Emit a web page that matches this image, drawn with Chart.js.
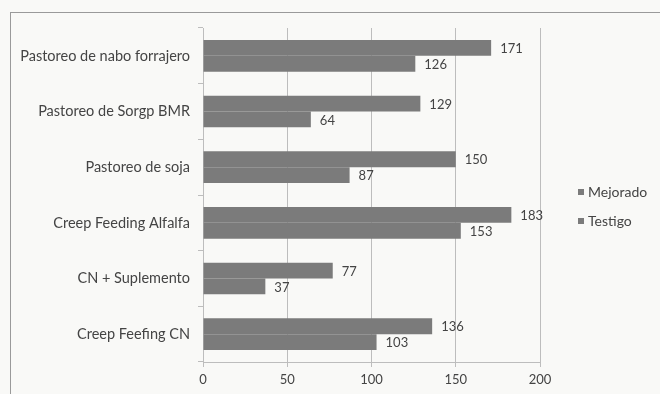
<!DOCTYPE html>
<html>
<head>
<meta charset="utf-8">
<script src="https://cdn.jsdelivr.net/npm/chart.js@4.4.0/dist/chart.umd.min.js"></script>
<style>
  html, body { margin: 0; padding: 0; background: #f9f9f7; }
  #wrap { position: relative; width: 660px; height: 394px; }
</style>
</head>
<body>
<div id="wrap"><canvas id="barChart" width="660" height="394"></canvas></div>
<script>
// =============================
// DATA
// =============================
const categories = [
  "Pastoreo de nabo forrajero",
  "Pastoreo de Sorgp BMR",
  "Pastoreo de soja",
  "Creep Feeding Alfalfa",
  "CN + Suplemento",
  "Creep Feefing CN"
];
const mejorado = [171, 129, 150, 183, 77, 136];
const testigo = [126, 64, 87, 153, 37, 103];
const xTicks = [0, 50, 100, 150, 200];

const textColor = "#444444";
const barColor = "#7b7b7b";
const fontFamily = "Lato, sans-serif";

// =============================
// Plugins: frame, value labels, legend
// =============================
const framePlugin = {
  id: "frame",
  beforeDraw(chart) {
    const ctx = chart.ctx;
    ctx.save();
    ctx.strokeStyle = "#9a9a9a";
    ctx.lineWidth = 1;
    ctx.strokeRect(10.5, 12.5, 700, 420);
    ctx.restore();
  }
};

const valueLabels = {
  id: "valueLabels",
  afterDatasetsDraw(chart) {
    const ctx = chart.ctx;
    ctx.save();
    ctx.font = "13px " + fontFamily;
    ctx.fillStyle = textColor;
    ctx.textAlign = "left";
    ctx.textBaseline = "middle";
    chart.data.datasets.forEach((ds, i) => {
      chart.getDatasetMeta(i).data.forEach((bar, j) => {
        ctx.fillText(ds.data[j], bar.x + 9, bar.y + 1);
      });
    });
    ctx.restore();
  }
};

const sideLegend = {
  id: "sideLegend",
  afterDraw(chart) {
    const ctx = chart.ctx;
    const x = chart.chartArea.right + 38;
    const y0 = 192;
    ctx.save();
    ctx.font = "14px " + fontFamily;
    ctx.textBaseline = "middle";
    chart.data.datasets.forEach((ds, i) => {
      const y = y0 + i * 29;
      ctx.fillStyle = ds.backgroundColor;
      ctx.fillRect(x, y - 3, 6, 6);
      ctx.fillStyle = textColor;
      ctx.fillText(ds.label, x + 10, y);
    });
    ctx.restore();
  }
};

// =============================
// Chart
// =============================
new Chart(document.getElementById("barChart"), {
  type: "bar",
  data: {
    labels: categories,
    datasets: [
      { label: "Mejorado", data: mejorado, backgroundColor: barColor },
      { label: "Testigo", data: testigo, backgroundColor: barColor }
    ]
  },
  options: {
    indexAxis: "y",
    responsive: false,
    animation: false,
    layout: { padding: { top: 28, right: 120, bottom: 0, left: 0 } },
    datasets: { bar: { categoryPercentage: 0.57, barPercentage: 1 } },
    plugins: {
      legend: { display: false },
      tooltip: { enabled: false }
    },
    scales: {
      x: {
        min: 0,
        max: 200,
        afterBuildTicks(scale) { scale.ticks = xTicks.map(v => ({ value: v })); },
        afterFit(scale) { scale.height = 32; },
        grid: { color: "#bdbdbd", tickLength: 5, tickColor: "#bdbdbd" },
        border: { color: "#bdbdbd" },
        ticks: { color: textColor, font: { family: fontFamily, size: 13 }, padding: 5 }
      },
      y: {
        afterFit(scale) { scale.width = 203; },
        grid: { drawOnChartArea: false, tickLength: 5, tickColor: "#bdbdbd", offset: true },
        border: { color: "#bdbdbd" },
        ticks: { color: textColor, font: { family: fontFamily, size: 14.5 }, padding: 8 }
      }
    }
  },
  plugins: [framePlugin, valueLabels, sideLegend]
});
</script>
</body>
</html>
